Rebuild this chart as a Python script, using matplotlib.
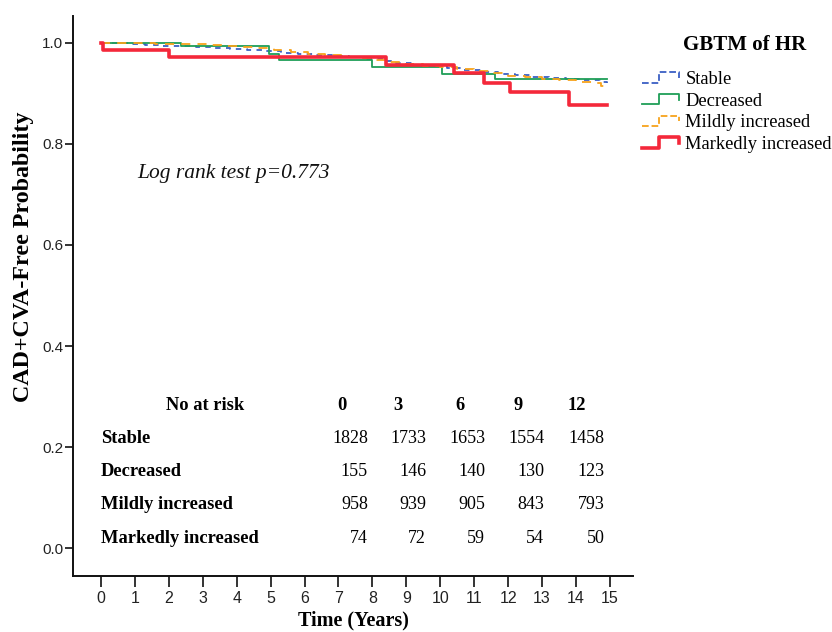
import numpy as np
import matplotlib
matplotlib.use("Agg")
import matplotlib.pyplot as plt
from matplotlib.lines import Line2D
from matplotlib.legend_handler import HandlerBase

# ---------------- data ----------------
groups = ["Stable", "Decreased", "Mildly increased", "Markedly increased"]

stable_t = [0.0, 0.4, 0.9, 1.3, 1.8, 2.3, 2.8, 3.3, 3.8, 4.3, 4.8, 5.3, 5.8, 6.3, 6.8, 7.3, 7.8,
            8.3, 8.7, 9.2, 9.7, 10.2, 10.7, 11.2, 11.7, 12.2, 12.7, 13.2, 13.7, 14.2, 14.7, 14.9]
stable_s = [1.000, 0.999, 0.998, 0.996, 0.994, 0.993, 0.991, 0.990, 0.988, 0.986, 0.983, 0.980,
            0.978, 0.976, 0.973, 0.971, 0.968, 0.963, 0.960, 0.957, 0.954, 0.950, 0.946, 0.942,
            0.939, 0.936, 0.933, 0.931, 0.929, 0.926, 0.923, 0.921]

decr_t = [0.0, 2.36, 4.95, 5.25, 8.0, 10.05, 11.6, 14.9]
decr_s = [1.000, 0.994, 0.978, 0.966, 0.953, 0.938, 0.929, 0.929]

mild_t = [0.0, 0.8, 1.6, 2.4, 3.2, 3.6, 4.1, 4.6, 5.1, 5.6, 6.1, 6.6, 7.1, 7.6, 8.1, 8.5, 9.0,
          9.5, 10.0, 10.5, 11.0, 11.5, 12.0, 12.5, 13.0, 13.5, 14.0, 14.5, 14.75, 14.9]
mild_s = [1.000, 0.999, 0.998, 0.997, 0.996, 0.994, 0.992, 0.989, 0.986, 0.982, 0.978, 0.975,
          0.972, 0.969, 0.966, 0.961, 0.958, 0.955, 0.952, 0.949, 0.945, 0.940, 0.935, 0.932,
          0.929, 0.926, 0.923, 0.920, 0.914, 0.911]

mark_t = [0.0, 0.05, 2.0, 8.4, 10.4, 11.3, 12.05, 13.8, 14.9]
mark_s = [1.000, 0.986, 0.972, 0.957, 0.940, 0.921, 0.902, 0.876, 0.876]

risk_times = ["0", "3", "6", "9", "12"]
risk_stable = [1828, 1733, 1653, 1554, 1458]
risk_decr = [155, 146, 140, 130, 123]
risk_mild = [958, 939, 905, 843, 793]
risk_mark = [74, 72, 59, 54, 50]

p_value_text = "Log rank test p=0.773"
legend_title = "GBTM of HR"

# ---------------- styling ----------------
serif = ["Liberation Serif", "DejaVu Serif"]
sans = ["Liberation Sans", "DejaVu Sans"]

colors = ["#3a5fc4", "#1f9e57", "#f7a21b", "#f4283a"]
styles = [
    dict(lw=1.3, ls=(0, (3, 3))),
    dict(lw=1.3, ls="-"),
    dict(lw=1.3, ls=(0, (5, 4))),
    dict(lw=2.6, ls="-"),
]

fig = plt.figure(figsize=(8.32, 6.32), dpi=100)
ax = fig.add_axes([73 / 832, 1 - 576 / 632, (633 - 73) / 832, (576 - 16) / 632])

series = [(stable_t, stable_s), (decr_t, decr_s), (mild_t, mild_s), (mark_t, mark_s)]
for (t, s), c, st in zip(series, colors, styles):
    ax.step(t, s, where="post", color=c, **st)

ax.set_xlim(-0.825, 15.68)
ax.set_ylim(-0.055, 1.053)
ax.set_xticks(range(0, 16))
ax.set_yticks([0.0, 0.2, 0.4, 0.6, 0.8, 1.0])
ax.set_yticklabels(["0.0", "0.2", "0.4", "0.6", "0.8", "1.0"])
for sp in ["top", "right"]:
    ax.spines[sp].set_visible(False)
for sp in ["left", "bottom"]:
    ax.spines[sp].set_linewidth(1.4)
    ax.spines[sp].set_color("#111111")
ax.tick_params(axis="x", direction="out", length=8, width=1.2, color="#111111",
               labelsize=11.5, labelcolor="#222222", pad=3)
ax.tick_params(axis="y", direction="out", length=6, width=1.2, color="#111111",
               labelsize=11, labelcolor="#222222", pad=1)
for lab in ax.get_xticklabels() + ax.get_yticklabels():
    lab.set_family(sans)

ax.set_ylabel("CAD+CVA-Free Probability", family=serif, fontsize=17.3, fontweight="bold")
ax.yaxis.set_label_coords(-0.069, (576 - 257) / 560)
ax.set_xlabel("Time (Years)", family=serif, fontsize=14.5, fontweight="bold")
ax.xaxis.set_label_coords(0.5, (576 - 610) / 560)

ax.text(1.06, 0.741, p_value_text, family=serif, style="italic", fontsize=15.5,
        ha="left", va="center", color="#111111")

# risk table
col_hdr_x = [7.10, 8.75, 10.58, 12.29, 14.03]
num_right_x = [7.87, 9.58, 11.32, 13.06, 14.85]
row_y = [0.217, 0.152, 0.087, 0.020]
hdr_y = 0.283
ax.text(3.07, hdr_y, "No at risk", family=serif, fontweight="bold", fontsize=13.3,
        ha="center", va="center")
for x, lab in zip(col_hdr_x, risk_times):
    ax.text(x, hdr_y, lab, family=serif, fontweight="bold", fontsize=13.3, ha="center",
            va="center")
for y, name, vals in zip(row_y, groups, [risk_stable, risk_decr, risk_mild, risk_mark]):
    ax.text(0.0, y, name, family=serif, fontweight="bold", fontsize=13.3, ha="left",
            va="center")
    for x, v in zip(num_right_x, vals):
        ax.text(x, y, str(v), family=serif, fontsize=13, ha="right", va="center")


# legend with step-shaped handles
class StepHandler(HandlerBase):
    def create_artists(self, legend, orig_handle, xdescent, ydescent, width, height,
                       fontsize, trans):
        xs = np.array([0, 0.45, 0.45, 1.0, 1.0]) * width - xdescent
        ys = np.array([0.1, 0.1, 0.9, 0.9, 0.45]) * height - ydescent
        ln = Line2D(xs, ys, color=orig_handle.get_color(), lw=orig_handle.get_linewidth(),
                    ls=orig_handle.get_linestyle())
        ln.set_transform(trans)
        return [ln]


handles = [Line2D([], [], color=c, **st) for c, st in zip(colors, styles)]
leg = fig.legend(handles, groups, loc="upper left", bbox_to_anchor=(642 / 832, 1 - 71 / 632),
                 frameon=False, handler_map={Line2D: StepHandler()},
                 prop={"family": serif, "size": 13.3}, borderpad=0, borderaxespad=0,
                 handlelength=2.0, handletextpad=0.35, labelspacing=0.25)
fig.text(745 / 832, 1 - 45 / 632, legend_title, family=serif, fontsize=15, fontweight="bold",
         ha="center", va="center")

fig.savefig("out.png", dpi=100)
